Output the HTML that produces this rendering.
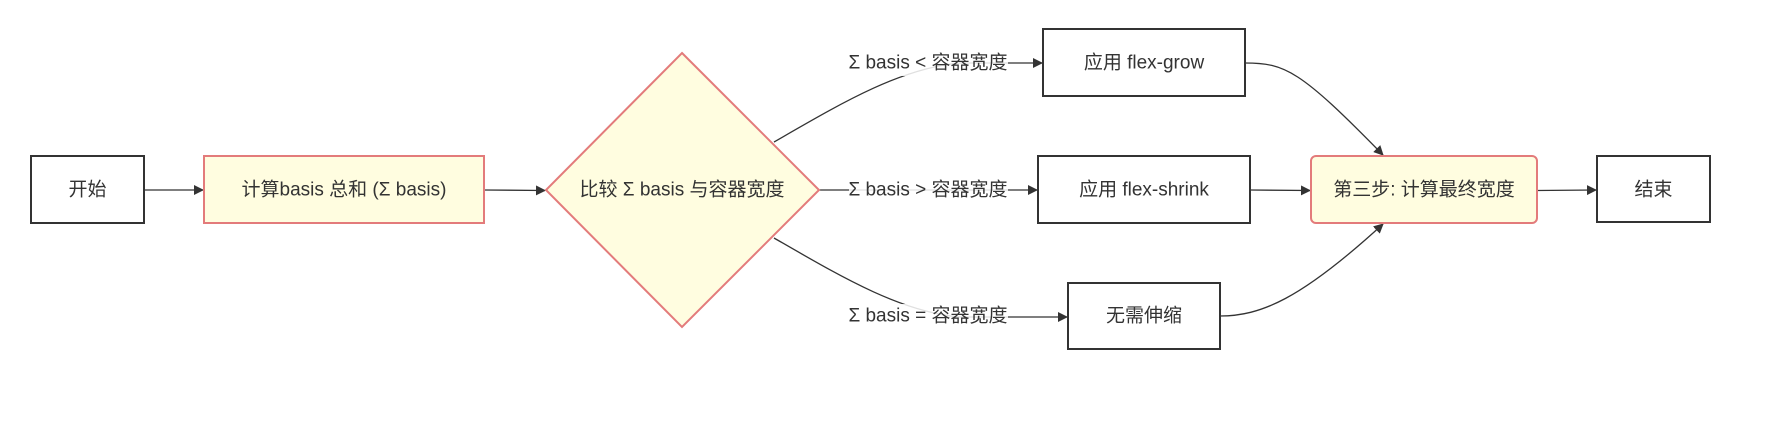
<!DOCTYPE html>
<html>
<head>
<meta charset="utf-8">
<style>
  html, body { margin: 0; padding: 0; background: #ffffff; }
  svg { display: block; }
  text {
    font-family: "Liberation Sans", "Noto Sans CJK SC", sans-serif;
    font-size: 19px;
    fill: #333333;
  }
</style>
</head>
<body>
<svg width="1767" height="447" viewBox="0 0 1767 447" xmlns="http://www.w3.org/2000/svg">
  <defs>
    <marker id="arr" viewBox="0 0 10 10" refX="9" refY="5" markerWidth="10" markerHeight="10" markerUnits="userSpaceOnUse" orient="auto">
      <path d="M0,0 L10,5 L0,10 z" fill="#333333"/>
    </marker>
  </defs>

  <!-- edges -->
  <g fill="none" stroke="#333333" stroke-width="1.3">
    <path d="M144 190 L203 190" marker-end="url(#arr)"/>
    <path d="M484 190 L545 190.5" marker-end="url(#arr)"/>
    <path d="M774 142 C840 104, 900 68, 960 63 L1042 63" marker-end="url(#arr)"/>
    <path d="M819 190 L1037 190" marker-end="url(#arr)"/>
    <path d="M774 238 C840 276, 900 312, 960 317 L1067 317" marker-end="url(#arr)"/>
    <path d="M1245 63 C1285 63, 1300 70, 1383 155" marker-end="url(#arr)"/>
    <path d="M1250 190 L1310 190.5" marker-end="url(#arr)"/>
    <path d="M1220 316 C1260 316, 1300 300, 1383 224" marker-end="url(#arr)"/>
    <path d="M1537 190.5 L1596 190" marker-end="url(#arr)"/>
  </g>

  <!-- edge labels -->
  <g>
    <rect x="849" y="51" width="159" height="25" fill="#ffffff" opacity="0.85"/>
    <text x="928" y="63" text-anchor="middle" dominant-baseline="central">Σ basis &lt; 容器宽度</text>
    <rect x="849" y="177" width="159" height="25" fill="#ffffff" opacity="0.85"/>
    <text x="928" y="190" text-anchor="middle" dominant-baseline="central">Σ basis &gt; 容器宽度</text>
    <rect x="849" y="304" width="159" height="25" fill="#ffffff" opacity="0.85"/>
    <text x="928" y="316" text-anchor="middle" dominant-baseline="central">Σ basis = 容器宽度</text>
  </g>

  <!-- nodes -->
  <rect x="31" y="156" width="113" height="67" fill="#ffffff" stroke="#333333" stroke-width="2"/>
  <text x="87.5" y="190" text-anchor="middle" dominant-baseline="central">开始</text>

  <rect x="204" y="156" width="280" height="67" fill="#fffde0" stroke="#e37b7b" stroke-width="2"/>
  <text x="344" y="190" text-anchor="middle" dominant-baseline="central">计算basis 总和 (Σ basis)</text>

  <polygon points="682,53 819,190 682,327 546,190" fill="#fffde0" stroke="#e37b7b" stroke-width="2"/>
  <text x="682" y="190" text-anchor="middle" dominant-baseline="central">比较 Σ basis 与容器宽度</text>

  <rect x="1043" y="29" width="202" height="67" fill="#ffffff" stroke="#333333" stroke-width="2"/>
  <text x="1144" y="63" text-anchor="middle" dominant-baseline="central">应用 flex-grow</text>

  <rect x="1038" y="156" width="212" height="67" fill="#ffffff" stroke="#333333" stroke-width="2"/>
  <text x="1144" y="190" text-anchor="middle" dominant-baseline="central">应用 flex-shrink</text>

  <rect x="1068" y="283" width="152" height="66" fill="#ffffff" stroke="#333333" stroke-width="2"/>
  <text x="1144" y="316" text-anchor="middle" dominant-baseline="central">无需伸缩</text>

  <rect x="1311" y="156" width="226" height="67" rx="5" ry="5" fill="#fffde0" stroke="#e37b7b" stroke-width="2"/>
  <text x="1424" y="190" text-anchor="middle" dominant-baseline="central">第三步: 计算最终宽度</text>

  <rect x="1597" y="156" width="113" height="66" fill="#ffffff" stroke="#333333" stroke-width="2"/>
  <text x="1653.5" y="190" text-anchor="middle" dominant-baseline="central">结束</text>
</svg>
</body>
</html>
